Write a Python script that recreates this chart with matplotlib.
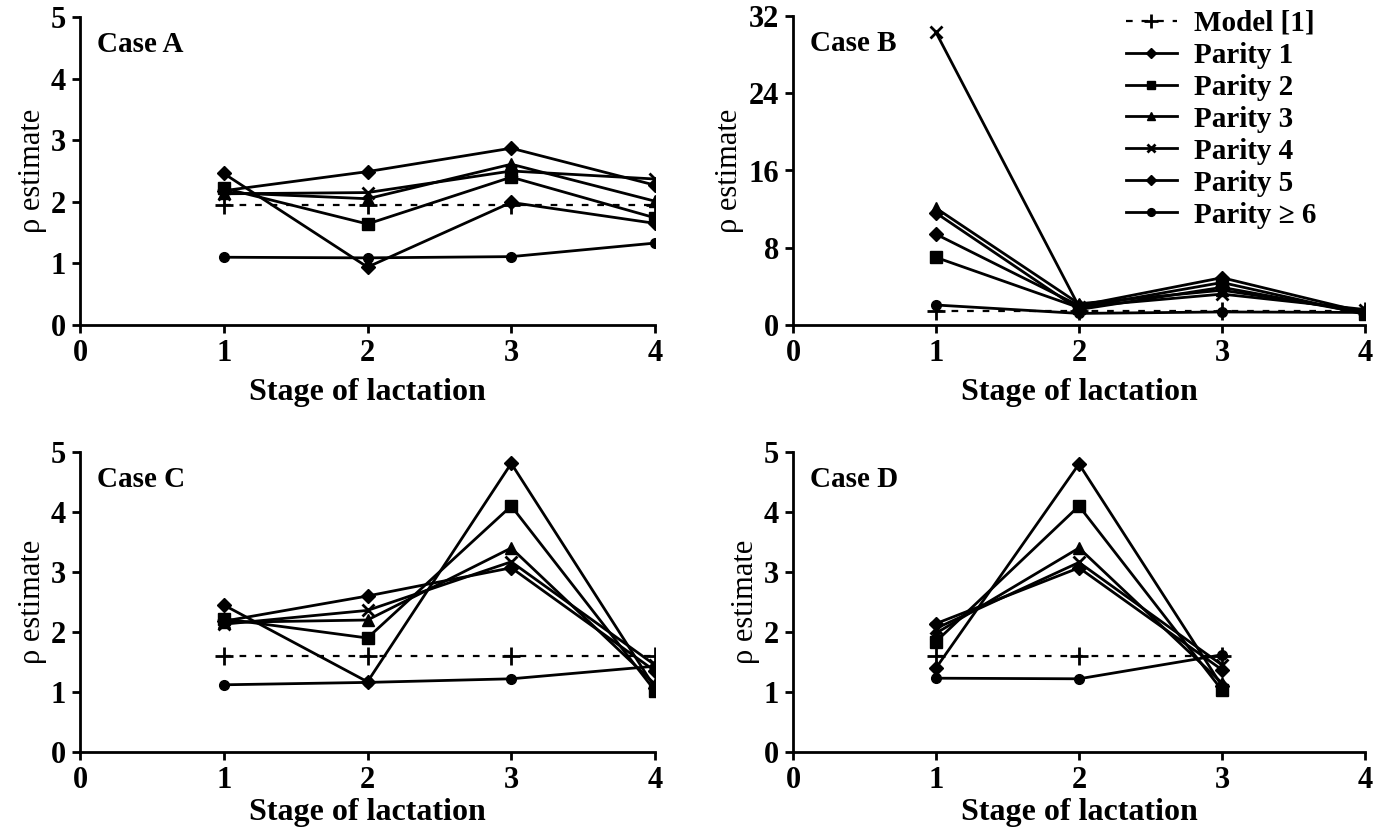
import matplotlib
matplotlib.use("Agg")
import matplotlib.pyplot as plt

plt.rcParams['font.family'] = ['Liberation Serif', 'DejaVu Serif']

labels = ['Model [1]', 'Parity 1', 'Parity 2', 'Parity 3', 'Parity 4', 'Parity 5', 'Parity \u2265 6']
markers = ['+', 'D', 's', '^', 'x', 'D', 'o']

stages_4 = [1, 2, 3, 4]
stages_3 = [1, 2, 3]

# Case A
case_a = [
    [1.95, 1.95, 1.95, 1.95],
    [2.46, 0.94, 1.99, 1.65],
    [2.22, 1.64, 2.40, 1.74],
    [2.15, 2.05, 2.61, 2.01],
    [2.13, 2.15, 2.50, 2.37],
    [2.18, 2.49, 2.87, 2.27],
    [1.10, 1.09, 1.11, 1.33],
]
# Case B
case_b = [
    [1.5, 1.5, 1.5, 1.5],
    [9.4, 2.0, 4.9, 1.3],
    [7.0, 1.8, 4.4, 1.1],
    [12.1, 2.2, 3.6, 1.4],
    [30.3, 1.9, 3.2, 1.6],
    [11.6, 1.6, 3.9, 1.2],
    [2.07, 1.2, 1.35, 1.3],
]
# Case C
case_c = [
    [1.6, 1.6, 1.6, 1.6],
    [2.45, 1.17, 4.81, 1.07],
    [2.22, 1.90, 4.10, 1.02],
    [2.16, 2.20, 3.40, 1.13],
    [2.13, 2.36, 3.17, 1.45],
    [2.18, 2.60, 3.07, 1.35],
    [1.12, 1.16, 1.22, 1.43],
]
# Case D
case_d = [
    [1.6, 1.6, 1.6],
    [1.40, 4.80, 1.10],
    [1.84, 4.10, 1.03],
    [1.98, 3.40, 1.15],
    [2.06, 3.16, 1.45],
    [2.14, 3.07, 1.37],
    [1.23, 1.22, 1.62],
]

fig = plt.figure(figsize=(13.84, 8.3), dpi=100)
ax_a = fig.add_axes([80/1384, 1-325/830, 575/1384, 308/830])
ax_b = fig.add_axes([793/1384, 1-325/830, 572/1384, 309/830])
ax_c = fig.add_axes([80/1384, 1-752/830, 575/1384, 300/830])
ax_d = fig.add_axes([793/1384, 1-752/830, 572/1384, 300/830])

panels = [(ax_a, case_a, stages_4, 'Case A', 5, 1, 7),
          (ax_b, case_b, stages_4, 'Case B', 32, 8, 7),
          (ax_c, case_c, stages_4, 'Case C', 5, 1, 2),
          (ax_d, case_d, stages_3, 'Case D', 5, 1, 2)]

for ax, data, xs, name, ymax, ystep, xpad in panels:
    for i, ys in enumerate(data):
        if i == 0:
            ax.plot(xs, ys, color='black', ls=(0, (3, 4)), lw=1.6, marker='+',
                    ms=13, mew=2, label=labels[i])
        else:
            ms = 7 if markers[i] in ('D', 'o') else 8
            ax.plot(xs, ys, color='black', lw=2, marker=markers[i], ms=ms,
                    mew=2 if markers[i] == 'x' else 1, label=labels[i])
    ax.set_xlim(0, 4)
    ax.set_ylim(0, ymax)
    ax.set_xticks(range(0, 5))
    ax.set_yticks(range(0, ymax + 1, ystep))
    for s in ['top', 'right']:
        ax.spines[s].set_visible(False)
    for s in ['left', 'bottom']:
        ax.spines[s].set_linewidth(2)
    ax.tick_params(direction='out', length=6, width=2, labelsize=22, pad=4)
    for t in ax.get_xticklabels() + ax.get_yticklabels():
        t.set_fontweight('bold')
    ax.set_xlabel('Stage of lactation', fontsize=23, fontweight='bold', labelpad=xpad)
    ax.set_ylabel('\u03c1 estimate', fontsize=22, labelpad=3)
    ax.text(0.03, 0.91, name, transform=ax.transAxes, fontsize=21,
            fontweight='bold', va='center')
    ax.patch.set_visible(False)

ax_b.legend(loc='upper left', bbox_to_anchor=(0.582, 1.02), frameon=False,
            prop={'size': 21, 'weight': 'bold'}, handlelength=1.75,
            labelspacing=0.17, handletextpad=0.6, borderpad=0,
            borderaxespad=0, markerscale=0.8)

fig.savefig('out.png', dpi=100)
